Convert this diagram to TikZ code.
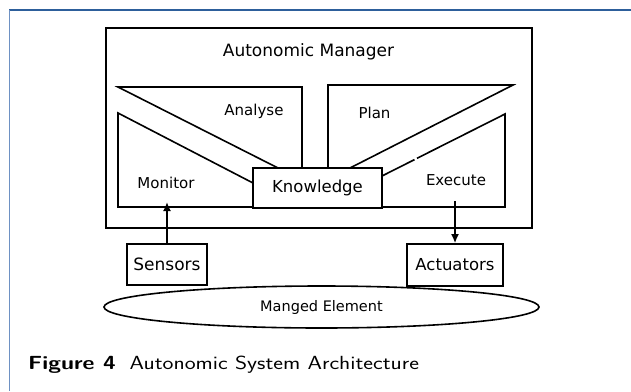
\documentclass[tikz,border=0pt]{standalone}
\usepackage{fontspec}
\usepackage{graphicx}
\newfontfamily\diagfont{DejaVu Sans}
\usetikzlibrary{arrows.meta,shapes.geometric}
\definecolor{framedark}{RGB}{45,95,155}
\definecolor{framelight}{RGB}{110,145,195}

\tikzset{
  part/.style={line width=1.6pt},
  box/.style={draw, line width=1.6pt, fill=white, inner sep=0pt},
  label/.style={font=\diagfont\fontsize{15}{18}\selectfont, anchor=base, inner sep=0pt},
  flow/.style={line width=2.5pt, -{Latex[length=9pt,width=8pt]}}
}

\begin{document}
\begin{tikzpicture}[x=1pt,y=-1pt]
    \useasboundingbox (0,0) rectangle (631,391);

    % Draw the page frame
    \draw[framedark, line width=1.6pt] (9,10) -- (631,10);
    \draw[framelight, line width=1pt] (9,10) -- (9,391);

    % Draw the manager box and its title
    \draw[part] (106,28) rectangle (532,228);
    \node[label, font=\diagfont\fontsize{17}{20}\selectfont] (title) at (308.5,56) {Autonomic Manager};

    % Draw the analyse part
    \draw[part] (278,168) -- (118,87) -- (302,87) -- (302,168);
    \node[label] (analyse) at (254,115) {Analyse};

    % Draw the monitor part
    \draw[part] (253,183) -- (118,113) -- (118,207) -- (253,207);
    \node[label] (monitor) at (166,188) {Monitor};

    % Draw the plan part
    \draw[part] (350,168) -- (513,85) -- (328,85) -- (328,168);
    \node[label] (plan) at (374.5,118) {Plan};

    % Draw the execute part, its line has a small break
    \draw[part] (382,176) -- (414.5,159.6);
    \draw[part] (417,158.3) -- (505,114) -- (505,207) -- (382,207);
    \node[label] (execute) at (456,185.5) {Execute};

    % Draw the knowledge box on top
    \node[box, minimum width=129pt, minimum height=40pt,
          font=\diagfont\fontsize{16.5}{20}\selectfont] (knowledge) at (317.5,188) {Knowledge};

    % Draw the sensors and actuators
    \node[box, minimum width=80pt, minimum height=41pt,
          font=\diagfont\fontsize{17}{20}\selectfont] (sensors) at (167,264.5) {Sensors};
    \node[box, minimum width=96pt, minimum height=42pt,
          font=\diagfont\fontsize{16.5}{20}\selectfont] (actuators) at (455,265) {Actuators};

    % Draw the managed element
    \node[draw, ellipse, line width=1.6pt, inner sep=0pt, minimum width=435pt, minimum height=42pt,
          font=\diagfont\fontsize{14.5}{18}\selectfont] (element) at (321.5,307) {Manged Element};

    % Draw the two arrows
    \coordinate (monitorin) at (167,202);
    \coordinate (executeout) at (455,201);
    \draw[flow] (sensors.north) -- (monitorin);
    \draw[flow] (executeout) -- (actuators.north);

    % Caption below
    \node[anchor=base west, inner sep=0pt, font=\sffamily\fontsize{19}{22}\selectfont] (caption) at (28,369)
        {\scalebox{1.22}[1]{\textbf{Figure 4}\hspace{0.6em}Autonomic System Architecture}};
\end{tikzpicture}
\end{document}
